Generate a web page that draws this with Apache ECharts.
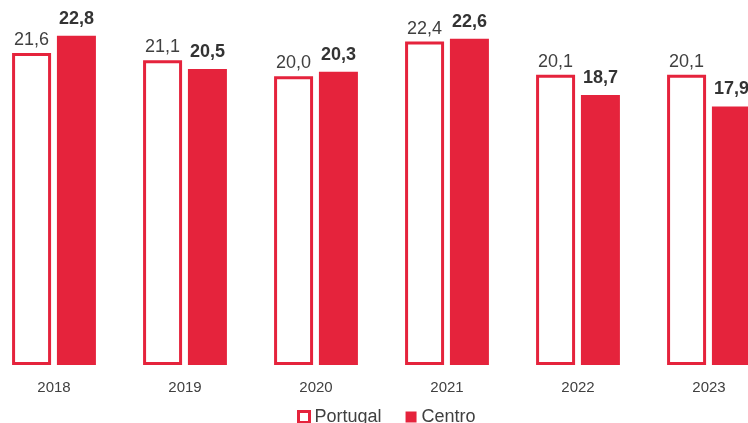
<!DOCTYPE html>
<html>
<head>
<meta charset="utf-8">
<script src="https://cdn.jsdelivr.net/npm/echarts@6/dist/echarts.min.js"></script>
<style>html,body{margin:0;padding:0;background:#fff;}#c{width:748px;height:423px;}</style>
</head>
<body>
<div id="c"></div>
<script>
var categories = ['2018', '2019', '2020', '2021', '2022', '2023'];
var portugal = [21.6, 21.1, 20.0, 22.4, 20.1, 20.1];
var centro = [22.8, 20.5, 20.3, 22.6, 18.7, 17.9];
var seriesNames = ['Portugal', 'Centro'];

var RED = '#E5233C';
var fmt = function (p) { return p.value.toFixed(1).replace('.', ','); };
var chart = echarts.init(document.getElementById('c'), null, {renderer: 'canvas'});
chart.setOption({
  animation: false,
  textStyle: {fontFamily: 'Liberation Sans, Arial, sans-serif'},
  grid: {left: -11.5, width: 786, top: 4, bottom: 58, outerBoundsMode: 'none', containLabel: false},
  legend: {
    data: [
      {name: seriesNames[0], itemStyle: {color: '#ffffff', borderColor: RED, borderWidth: 3}},
      {name: seriesNames[1], itemStyle: {color: RED, borderWidth: 0}}
    ],
    left: 292, top: 403,
    icon: 'rect',
    itemWidth: 11, itemHeight: 11, itemGap: 24,
    textStyle: {fontSize: 18, color: '#404040', fontFamily: 'Liberation Sans, Arial, sans-serif'}
  },
  xAxis: {
    type: 'category', data: categories,
    axisLine: {show: false}, axisTick: {show: false},
    axisLabel: {margin: 15, fontSize: 15, color: '#404040'}
  },
  yAxis: {type: 'value', min: 0, max: 25, show: false, splitLine: {show: false}},
  series: [
    {
      name: seriesNames[0], type: 'bar', data: portugal,
      barWidth: 39, barGap: '15%',
      itemStyle: {color: '#ffffff', borderColor: RED, borderWidth: 3},
      label: {show: true, position: 'top', distance: 4, fontSize: 18, color: '#404040', formatter: fmt}
    },
    {
      name: seriesNames[1], type: 'bar', data: centro,
      barWidth: 39,
      itemStyle: {color: RED},
      label: {show: true, position: 'top', distance: 8, fontSize: 18, fontWeight: 'bold', color: '#333333', formatter: fmt}
    }
  ]
});
</script>
</body>
</html>
